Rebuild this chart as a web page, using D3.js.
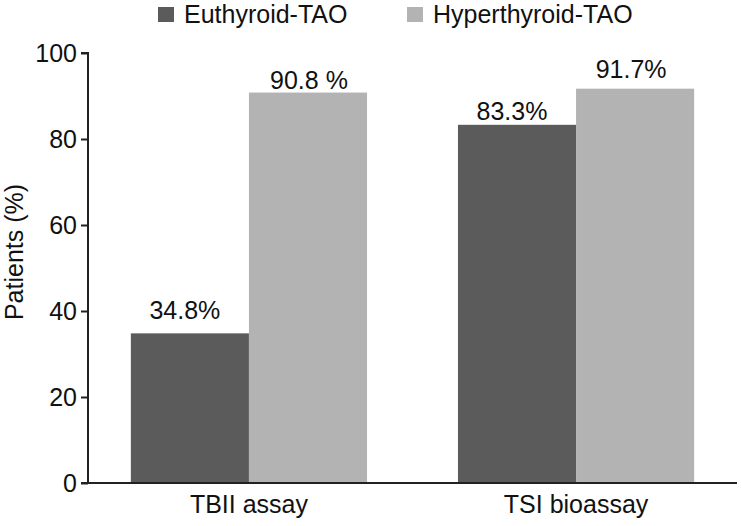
<!DOCTYPE html>
<html>
<head>
<meta charset="utf-8">
<script src="https://cdn.jsdelivr.net/npm/d3@7"></script>
<style>
  body { margin: 0; background: #fff; }
  svg text { font-family: "Liberation Sans", Arial, sans-serif; fill: #111; }
</style>
</head>
<body>
<script>
// chart data
var categories = ["TBII assay", "TSI bioassay"];
var seriesNames = ["Euthyroid-TAO", "Hyperthyroid-TAO"];
var euthyroid = [34.8, 83.3];
var hyperthyroid = [90.8, 91.7];
var valueLabels = [["34.8%", "83.3%"], ["90.8 %", "91.7%"]];
var yTicks = [0, 20, 40, 60, 80, 100];

var colors = ["#5b5b5b", "#b3b3b3"];
// label nudges as placed in the original figure: [dx, gap above bar]
var labelNudge = [[[-5, 14], [-5, 5]], [[1, 4], [-4, 11]]];

var svgWidth = 741, svgHeight = 526;
var margin = { top: 53, right: 4, bottom: 43, left: 88 };
var width = svgWidth - margin.left - margin.right;
var height = svgHeight - margin.top - margin.bottom;
var fontSize = "25px";

var svg = d3.select("body").append("svg")
  .attr("width", svgWidth)
  .attr("height", svgHeight);

var chartGroup = svg.append("g")
  .attr("transform", `translate(${margin.left}, ${margin.top})`);

// scales
var x0 = d3.scaleBand()
  .domain(categories)
  .range([0, width])
  .paddingInner(0.278)
  .paddingOuter(0.131);

var x1 = d3.scaleBand()
  .domain(seriesNames)
  .range([0, x0.bandwidth()]);

var y = d3.scaleLinear()
  .domain([0, 100])
  .range([height, 0]);

// build rows for bars
var rows = [];
categories.forEach(function(c, i) {
  rows.push({ cat: c, series: seriesNames[0], value: euthyroid[i], label: valueLabels[0][i], color: colors[0], nudge: labelNudge[0][i] });
  rows.push({ cat: c, series: seriesNames[1], value: hyperthyroid[i], label: valueLabels[1][i], color: colors[1], nudge: labelNudge[1][i] });
});

// bars
chartGroup.selectAll("rect.bar")
  .data(rows)
  .enter()
  .append("rect")
  .attr("class", "bar")
  .attr("x", d => x0(d.cat) + x1(d.series))
  .attr("y", d => y(d.value))
  .attr("width", x1.bandwidth())
  .attr("height", d => height - y(d.value))
  .attr("fill", d => d.color);

// value labels
chartGroup.selectAll("text.val")
  .data(rows)
  .enter()
  .append("text")
  .attr("class", "val")
  .attr("x", d => x0(d.cat) + x1(d.series) + x1.bandwidth() / 2 + d.nudge[0])
  .attr("y", d => y(d.value) - d.nudge[1])
  .attr("text-anchor", "middle")
  .style("font-size", fontSize)
  .text(d => d.label);

// y axis
var leftAxis = d3.axisLeft(y)
  .tickValues(yTicks)
  .tickSize(7)
  .tickPadding(4);

var yAxisG = chartGroup.append("g").call(leftAxis);
yAxisG.select(".domain").attr("d", `M-7,0H0V${height}`).attr("stroke", "#222").attr("stroke-width", 2);
yAxisG.selectAll(".tick line").attr("stroke", "#222").attr("stroke-width", 2);
yAxisG.selectAll(".tick text").style("font-size", fontSize).attr("fill", "#111");

// x axis
var bottomAxis = d3.axisBottom(x0).tickSize(0).tickPadding(12);
var xAxisG = chartGroup.append("g")
  .attr("transform", `translate(0, ${height})`)
  .call(bottomAxis);
xAxisG.select(".domain").attr("d", `M-7,0H${width}`).attr("stroke", "#222").attr("stroke-width", 2);
xAxisG.selectAll(".tick text").style("font-size", fontSize).attr("fill", "#111").attr("dy", "0.71em");

// y axis label
svg.append("text")
  .attr("transform", `translate(23, 252) rotate(-90)`)
  .attr("text-anchor", "middle")
  .style("font-size", fontSize)
  .text("Patients (%)");

// legend
var legendX = [158, 407];
var legend = svg.selectAll("g.legend")
  .data(seriesNames)
  .enter()
  .append("g")
  .attr("class", "legend")
  .attr("transform", (d, i) => `translate(${legendX[i]}, 7)`);

legend.append("rect")
  .attr("width", 16)
  .attr("height", 15)
  .attr("fill", (d, i) => colors[i]);

legend.append("text")
  .attr("x", 26)
  .attr("y", 16)
  .style("font-size", fontSize)
  .text(d => d);
</script>
</body>
</html>
